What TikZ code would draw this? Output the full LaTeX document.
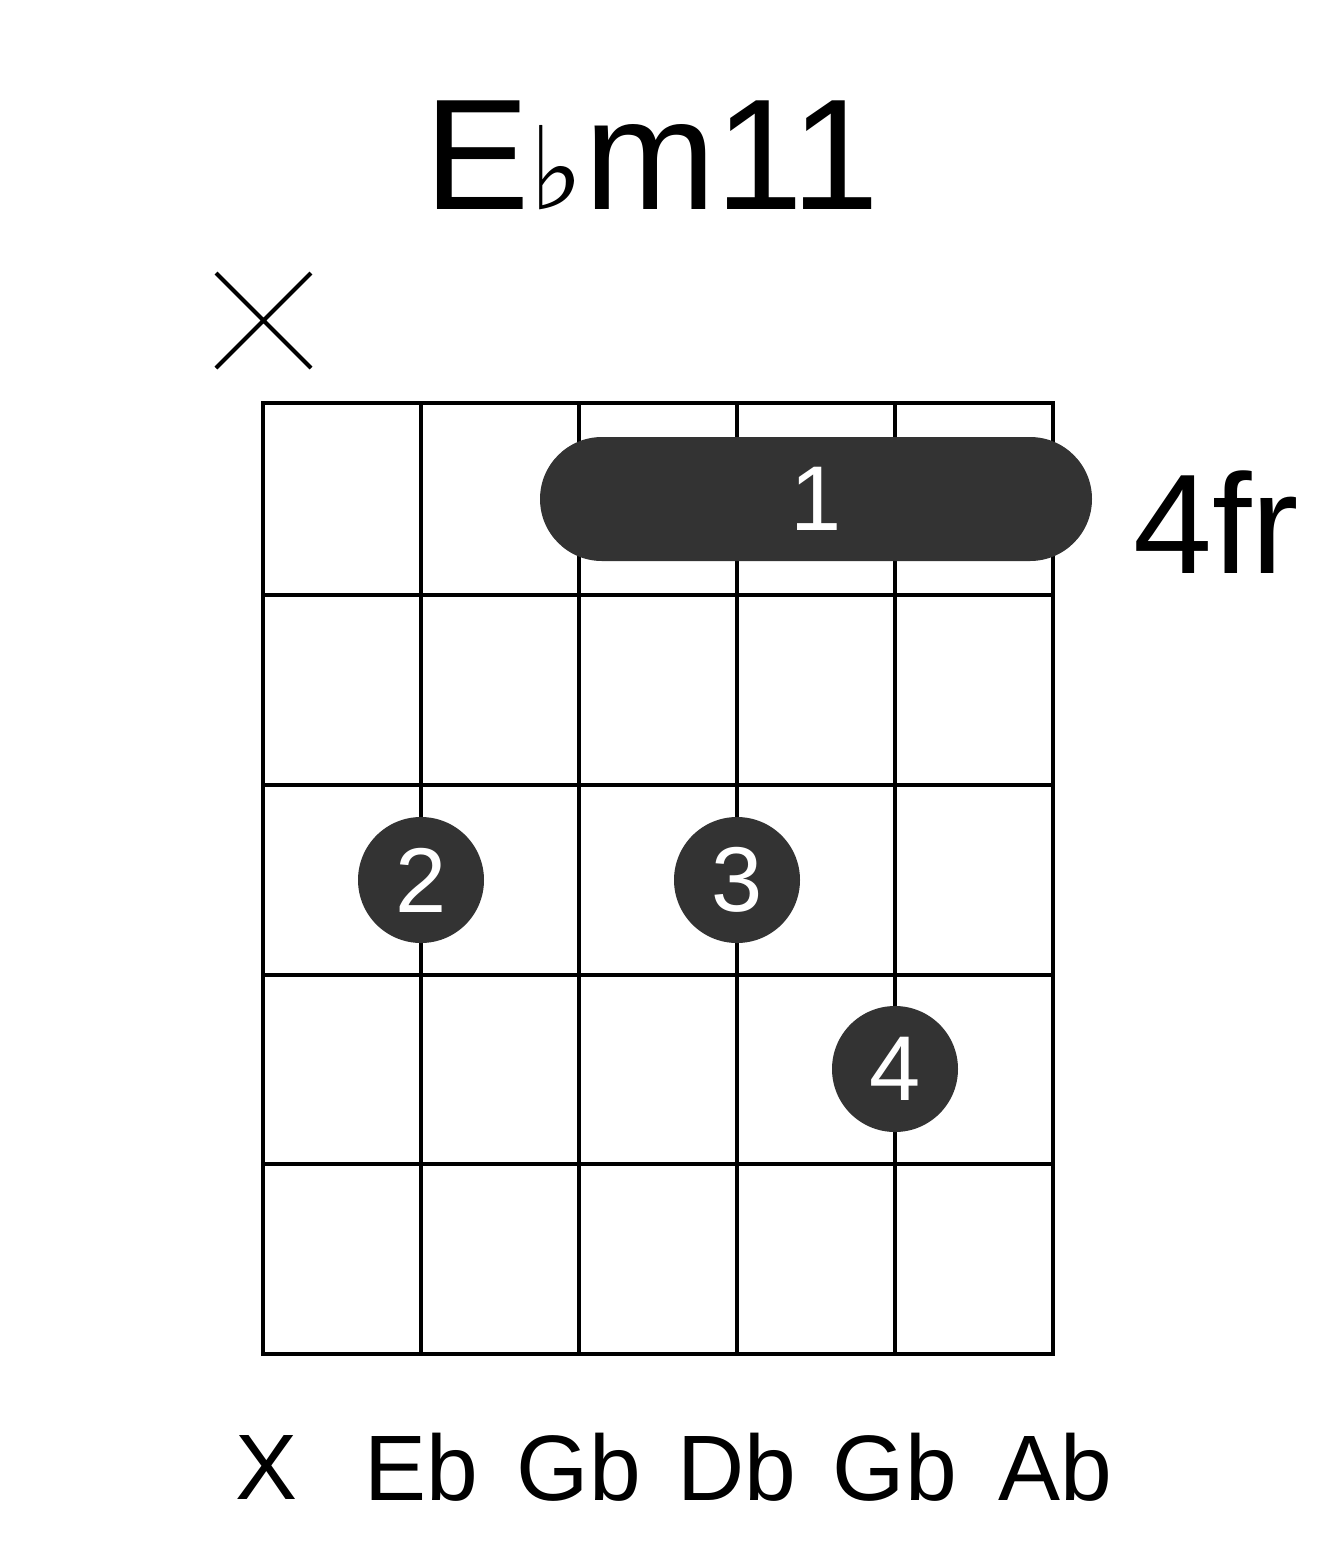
\documentclass[tikz,border=0pt]{standalone}
\usepackage{fontspec}
\setmainfont{Liberation Sans}
\newfontfamily\djv{DejaVu Sans}
\begin{document}
\begin{tikzpicture}[x=1pt,y=-1pt,
  grid/.style={line width=4pt},
  dot/.style={circle,fill=black!80,minimum size=126pt,inner sep=0pt,text=white,font=\fontsize{92}{92}\selectfont},
  lbl/.style={font=\fontsize{93}{93}\selectfont}]
\useasboundingbox (0,0) rectangle (1317,1551);
\foreach \x in {263,421,579,737,895,1053} \draw[grid] (\x,403) -- (\x,1354);
\foreach \y in {403,595,785,975,1164,1354} \draw[grid] (261,\y) -- (1055,\y);
\node[draw=none,fill=black!80,rounded corners=62pt,minimum width=552pt,minimum height=124pt,inner sep=0pt,text=white,font=\fontsize{92}{92}\selectfont] (barre) at (816,499) {1};
\node[dot] (d2) at (421,880) {2};
\node[dot] (d3) at (737,880) {3};
\node[dot] (d4) at (895,1069) {4};
\draw[line width=4pt] (216,273) -- (311,368) (311,273) -- (216,368);
\node[font=\fontsize{158}{158}\selectfont] (title) at (652,155) {E{\djv\fontsize{115}{115}\selectfont ♭}m11};
\node[font=\fontsize{142}{142}\selectfont,anchor=west] (fr) at (1130,522) {4fr};
\node[lbl] (s1) at (267,1467) {X};
\node[lbl] (s2) at (421,1467) {Eb};
\node[lbl] (s3) at (579,1467) {Gb};
\node[lbl] (s4) at (737,1467) {Db};
\node[lbl] (s5) at (895,1467) {Gb};
\node[lbl] (s6) at (1055,1467) {Ab};
\end{tikzpicture}
\end{document}
